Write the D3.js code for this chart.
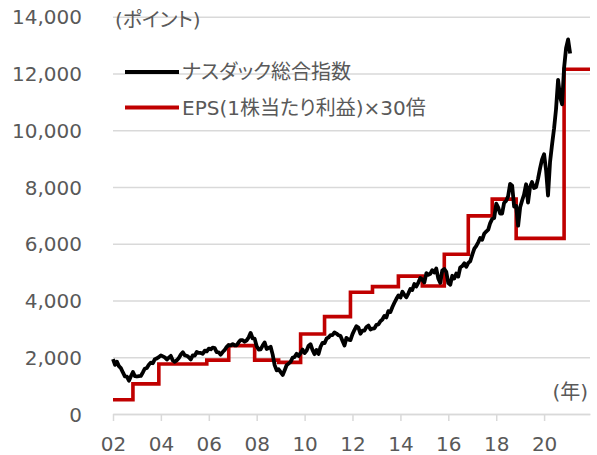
<!DOCTYPE html>
<html>
<head>
<meta charset="utf-8">
<script src="https://cdn.jsdelivr.net/npm/d3@7"></script>
<style>
  body { margin: 0; background: #fff; }
  svg text { font-family: "DejaVu Sans", "Noto Sans CJK JP", sans-serif; fill: #595959; font-feature-settings: "palt"; }
</style>
</head>
<body>
<svg width="597" height="455"></svg>
<script>
// Nasdaq composite, monthly, from Jan 2002
var nasdaqStart = '2002-01';
var nasdaqValues = [
  1934, 1731, 1845, 1688, 1616, 1463, 1328, 1315, 1172, 1330, 1479, 1336,
  1321, 1338, 1341, 1464, 1596, 1623, 1735, 1810, 1787, 1932, 1960, 2003,
  2066, 2030, 1994, 1920, 1987, 2048, 1887, 1838, 1897, 1975, 2097, 2175,
  2062, 2052, 1999, 1922, 2068, 2057, 2185, 2152, 2152, 2120, 2233, 2205,
  2306, 2281, 2340, 2323, 2179, 2172, 2091, 2184, 2258, 2367, 2432, 2415,
  2464, 2416, 2422, 2525, 2605, 2603, 2546, 2596, 2701, 2859, 2661, 2652,
  2390, 2271, 2279, 2413, 2523, 2293, 2326, 2368, 2092, 1721, 1536, 1577,
  1476, 1378, 1529, 1717, 1774, 1835, 1979, 2009, 2122, 2045, 2145, 2269,
  2147, 2238, 2398, 2461, 2257, 2109, 2255, 2114, 2369, 2507, 2498, 2653,
  2700, 2782, 2781, 2874, 2835, 2774, 2756, 2579, 2415, 2684, 2620, 2605,
  2814, 2967, 3092, 3046, 2827, 2935, 2940, 3067, 3116, 2977, 3010, 3020,
  3142, 3160, 3268, 3329, 3456, 3403, 3626, 3590, 3771, 3920, 4060, 4177,
  4104, 4308, 4199, 4115, 4243, 4408, 4370, 4580, 4493, 4631, 4792, 4736,
  4635, 4964, 4901, 4941, 5070, 4987, 5128, 4777, 4620, 5054, 5109, 5007,
  4614, 4558, 4870, 4775, 4948, 4843, 5162, 5213, 5312, 5189, 5324, 5383,
  5615, 5825, 5912, 6048, 6199, 6140, 6348, 6429, 6496, 6728, 6874, 6903,
  7411, 7273, 7063, 7066, 7442, 7510, 7672, 8110, 8046, 7306, 7331, 6635,
  7282, 7533, 7729, 8095, 7453, 8006, 8175, 7963, 7999, 8292, 8665, 8973,
  9151, 8567, 7700, 8890, 9490, 10059, 10745, 11775, 11168, 10912, 12199, 12888,
  13200, 12700
];

// EPS x30, step changes
var epsDates = ['2002-01', '2002-11', '2003-12', '2005-12', '2006-11', '2007-12', '2008-12',
  '2009-11', '2010-11', '2011-12', '2012-11', '2013-12', '2014-12', '2015-11',
  '2016-11', '2017-11', '2018-11', '2020-11', '2021-12'];
var epsValues = [500, 1060, 1760, 1900, 2410, 1900, 1820,
  2820, 3430, 4290, 4490, 4860, 4510, 5630,
  6980, 7570, 6190, 12150, 12150];

var yTicks = [0, 2000, 4000, 6000, 8000, 10000, 12000, 14000];
var xTickYears = [2002, 2004, 2006, 2008, 2010, 2012, 2014, 2016, 2018, 2020];
var seriesNames = ['ナスダック総合指数', 'EPS(1株当たり利益)×30倍'];
var seriesColors = ['#000000', '#c00000'];

var parseMonth = d3.timeParse('%Y-%m');
var svg = d3.select('svg');

var x = d3.scaleTime()
    .domain([parseMonth('2002-01'), parseMonth('2021-12')])
    .range([113, 590]);
var y = d3.scaleLinear()
    .domain([0, 14000])
    .range([414, 16.7]);

// gridlines + y labels
var yAxis = svg.append('g')
    .attr('transform', 'translate(113,0)')
    .call(d3.axisLeft(y).tickValues(yTicks).tickSize(-477).tickPadding(31)
        .tickFormat(d3.format(',')));
yAxis.select('.domain').remove();
yAxis.selectAll('line').attr('stroke', '#d9d9d9').attr('stroke-width', 1.5);
yAxis.selectAll('text').style('font-size', '20px').attr('dy', '0.36em');

// x axis
var xAxis = svg.append('g')
    .attr('transform', 'translate(0,414)')
    .call(d3.axisBottom(x)
        .tickValues(xTickYears.map(function(yr) { return new Date(yr, 0, 1); }))
        .tickFormat(d3.timeFormat('%y'))
        .tickSize(7).tickSizeOuter(0).tickPadding(16));
xAxis.select('.domain').attr('stroke', '#d9d9d9').attr('stroke-width', 1.5);
xAxis.selectAll('line').attr('stroke', '#d9d9d9').attr('stroke-width', 1.5);
xAxis.selectAll('text').style('font-size', '20px');

// series
var nasdaqData = nasdaqValues.map(function(v, i) {
    return { date: d3.timeMonth.offset(parseMonth(nasdaqStart), i), value: v };
});
var epsData = epsDates.map(function(d, i) {
    return { date: parseMonth(d), value: epsValues[i] };
});

svg.append('path')
    .datum(epsData)
    .attr('fill', 'none')
    .attr('stroke', seriesColors[1])
    .attr('stroke-width', 3.6)
    .attr('stroke-linejoin', 'miter')
    .attr('d', d3.line()
        .x(function(d) { return x(d.date); })
        .y(function(d) { return y(d.value); })
        .curve(d3.curveStepAfter));

svg.append('path')
    .datum(nasdaqData)
    .attr('fill', 'none')
    .attr('stroke', seriesColors[0])
    .attr('stroke-width', 3.8)
    .attr('stroke-linejoin', 'round')
    .attr('d', d3.line()
        .x(function(d) { return x(d.date); })
        .y(function(d) { return y(d.value); }));

// legend
var legend = svg.append('g');
seriesNames.forEach(function(name, i) {
    var ly = 72 + i * 35.5;
    legend.append('line')
        .attr('x1', 125).attr('x2', 179)
        .attr('y1', ly).attr('y2', ly)
        .attr('stroke', seriesColors[i])
        .attr('stroke-width', 4);
    legend.append('text')
        .attr('x', 182).attr('y', ly)
        .attr('dy', '0.36em')
        .style('font-size', '20px')
        .text(name);
});

// unit labels
svg.append('text')
    .attr('x', 115).attr('y', 20)
    .attr('dy', '0.36em')
    .style('font-size', '20px')
    .text('(ポイント)');

svg.append('text')
    .attr('x', 588).attr('y', 392)
    .attr('dy', '0.36em')
    .attr('text-anchor', 'end')
    .style('font-size', '20px')
    .text('(年)');
</script>
</body>
</html>
